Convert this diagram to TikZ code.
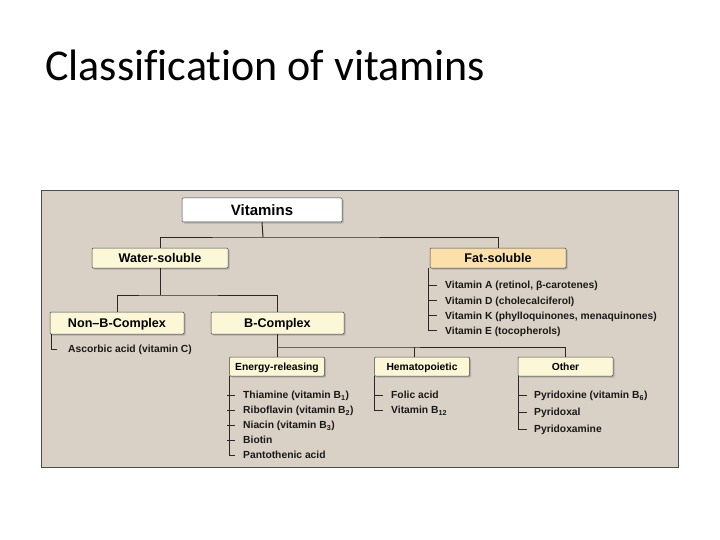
\documentclass[tikz,border=0pt]{standalone}
\usepackage{fontspec}
\setmainfont{Carlito}[Ligatures=NoCommon]
\newfontfamily\hvfont{Liberation Sans}
\usetikzlibrary{shadows}
\usetikzlibrary{positioning}
\usetikzlibrary{calc}

\definecolor{panelbg}{RGB}{218,209,198}
\definecolor{boxyellow}{RGB}{252,247,214}
\definecolor{boxpeach}{RGB}{252,224,170}
\definecolor{treeline}{RGB}{45,38,36}

\tikzset{
  box/.style={draw=black!75, line width=0.5pt, fill=boxyellow, rounded corners=1pt,
    drop shadow={shadow xshift=1.6pt, shadow yshift=-1.6pt, opacity=0.45},
    inner sep=0pt, text height=9pt, text depth=0pt,
    font=\hvfont\bfseries\fontsize{12.6}{14}\selectfont},
  subbox/.style={box, minimum width=95pt, minimum height=19pt,
    text height=7.4pt, text depth=0pt,
    font=\hvfont\bfseries\fontsize{10.3}{12}\selectfont},
  item/.style={anchor=west, inner sep=0pt, text height=7.4pt, text depth=0pt,
    font=\hvfont\bfseries\fontsize{10.3}{12}\selectfont, text=black!90},
  tree/.style={draw=treeline, line width=1pt}
}

\begin{document}
\begin{tikzpicture}[x=1pt, y=-1pt]
\useasboundingbox (0,0) rectangle (720,540);

% title
\node[anchor=base west, inner sep=0pt, font=\fontsize{44}{50}\selectfont] (title) at (45,81) {Classification of vitamins};

% panel
\draw[black!70, line width=0.8pt, fill=panelbg] (41,190) rectangle (678,467);

% boxes
\node[box, fill=white, minimum width=160pt, minimum height=24pt, text height=10.7pt,
  font=\hvfont\bfseries\fontsize{15}{17}\selectfont] (vit) at (262,210) {Vitamins};
\node[box, minimum width=136pt, minimum height=20pt] (water) at (160,258) {Water-soluble};
\node[box, fill=boxpeach, minimum width=136pt, minimum height=20pt] (fat) at (498,258) {Fat-soluble};
\node[box, minimum width=134pt, minimum height=22pt] (nonb) at (117,323) {Non–B-Complex};
\node[box, minimum width=133pt, minimum height=22pt] (bcx) at (277.5,323) {B-Complex};
\node[subbox] (energy) at (277,366.5) {Energy-releasing};
\node[subbox] (hema) at (422,366.5) {Hematopoietic};
\node[subbox] (other) at (565.5,366.5) {Other};

% tree
\coordinate (j1) at (263,237);
\coordinate (j2) at (160,295);
\coordinate (j3) at (277.5,347);
\coordinate (j4) at (414,347);
\draw[tree] (vit.south) -- (j1);
\draw[tree] (water.north) |- (j1) -| (fat.north);
\draw[tree] (water.south) -- (j2);
\draw[tree] (nonb.north) |- (j2) -| (bcx.north);
\draw[tree] (bcx.south) -- (j3);
\draw[tree] (energy.north) |- (j3) -| (other.north);
\draw[tree] (j4) -- (j4 |- hema.north);

% lists
\node[item] (n1) at (68,349) {Ascorbic acid (vitamin C)};
\draw[tree] ($(nonb.south west)+(2,0)$) |- ($(n1.west)+(-11,0)$);

\foreach \t [count=\i] in {Vitamin A (retinol{,} β-carotenes), Vitamin D (cholecalciferol),
  Vitamin K (phylloquinones{,} menaquinones), Vitamin E (tocopherols)}
  \node[item] (f\i) at (445,{285+15.3*(\i-1)}) {\t};
\draw[tree] ($(fat.south west)+(-1,0)$) |- ($(f4.west)+(-8,0)$);
\foreach \i in {1,2,3}
  \draw[tree] ($(f\i.west)+(-16,0)$) -- ++(8,0);

\foreach \t [count=\i] in {Thiamine (vitamin B\textsubscript{1}), Riboflavin (vitamin B\textsubscript{2}),
  Niacin (vitamin B\textsubscript{3}), Biotin, Pantothenic acid}
  \node[item] (e\i) at (243,{395+15*(\i-1)}) {\t};
\draw[tree] (energy.south west) |- ($(e5.west)+(-8,0)$);
\foreach \i in {1,...,4}
  \draw[tree] ($(e\i.west)+(-16,0)$) -- ++(8,0);

\foreach \t [count=\i] in {Folic acid, Vitamin B\textsubscript{12}}
  \node[item] (h\i) at (391,{395+15*(\i-1)}) {\t};
\draw[tree] (hema.south west) |- ($(h2.west)+(-8,0)$);
\draw[tree] ($(h1.west)+(-16,0)$) -- ++(8,0);

\foreach \t [count=\i] in {Pyridoxine (vitamin B\textsubscript{6}), Pyridoxal, Pyridoxamine}
  \node[item] (o\i) at (534,{395+17*(\i-1)}) {\t};
\draw[tree] ($(other.south west)+(1,0)$) |- ($(o3.west)+(-7,0)$);
\foreach \i in {1,2}
  \draw[tree] ($(o\i.west)+(-15,0)$) -- ++(8,0);

\end{tikzpicture}
\end{document}
